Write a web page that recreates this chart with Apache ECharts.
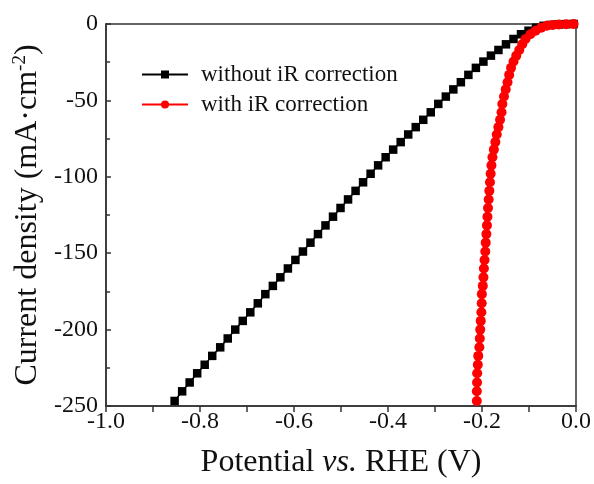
<!DOCTYPE html>
<html>
<head>
<meta charset="utf-8">
<script src="https://cdn.jsdelivr.net/npm/echarts@6/dist/echarts.min.js"></script>
<style>html,body{margin:0;padding:0;background:#fff}#c{width:594px;height:484px}</style>
</head>
<body>
<div id="c"></div>
<script>
// Potential (V vs RHE) without iR correction
var potentialRaw = [-0.854,-0.838,-0.822,-0.806,-0.790,-0.774,-0.757,-0.741,-0.725,-0.709,
  -0.693,-0.677,-0.661,-0.645,-0.629,-0.613,-0.597,-0.581,-0.565,-0.549,
  -0.533,-0.517,-0.501,-0.485,-0.469,-0.453,-0.437,-0.421,-0.405,-0.389,
  -0.373,-0.357,-0.341,-0.325,-0.309,-0.293,-0.277,-0.261,-0.245,-0.229,
  -0.213,-0.197,-0.181,-0.165,-0.149,-0.133,-0.117,-0.101,-0.085,-0.069,
  -0.053,-0.037,-0.021,-0.005];
// Potential (V vs RHE) with iR correction
var potentialCorr = [-0.211,-0.211,-0.2106,-0.2103,-0.2089,-0.208,-0.2056,-0.2047,-0.2038,-0.2027,
  -0.2013,-0.2006,-0.2003,-0.1983,-0.1969,-0.196,-0.1946,-0.193,-0.1921,-0.1907,
  -0.1895,-0.1884,-0.1872,-0.1858,-0.1844,-0.183,-0.1816,-0.1799,-0.1778,-0.1748,
  -0.1716,-0.1686,-0.1651,-0.1616,-0.1584,-0.1567,-0.1532,-0.1495,-0.1457,-0.1422,
  -0.1382,-0.1329,-0.1271,-0.1207,-0.1143,-0.1075,-0.097,-0.086,-0.074,-0.062,
  -0.050,-0.0362,-0.0207,-0.005];
// Current density (mA cm^-2)
var currentDensity = [-246.7,-240.4,-234.6,-228.6,-223.0,-217.2,-211.6,-205.8,-200.0,-194.3,
  -188.7,-182.8,-176.8,-171.4,-165.8,-160.0,-154.4,-148.9,-143.1,-137.5,
  -131.8,-126.1,-120.4,-114.8,-109.2,-103.6,-98.0,-92.5,-87.2,-82.2,
  -77.3,-72.3,-67.5,-62.7,-57.8,-52.3,-47.5,-42.8,-38.1,-33.3,
  -28.7,-24.6,-20.7,-17.0,-13.3,-9.8,-6.7,-4.4,-2.4,-1.2,
  -0.6,-0.3,-0.1,0];
var seriesNames = ['without iR correction', 'with iR correction'];

function pairs(xs, ys){ return xs.map(function(x,i){ return [x, ys[i]]; }); }

var FONT = '"Liberation Serif","Times New Roman",serif';
var chart = echarts.init(document.getElementById('c'), null, {renderer:'canvas'});
chart.setOption({
  animation: false,
  backgroundColor: '#fff',
  grid: {left:106, right:16, top:24, bottom:77, show:true, borderColor:'#333', borderWidth:1.5, backgroundColor:'transparent'},
  legend: {
    left: 136, top: 58, orient: 'vertical',
    itemWidth: 46, itemHeight: 10, itemGap: 7,
    textStyle: {fontFamily: FONT, fontSize: 23, color: '#111', padding:[0,0,0,8]},
    data: seriesNames
  },
  xAxis: {
    type: 'value', min: -1.0, max: 0.0, interval: 0.2,
    axisLine: {show:true, onZero:false, lineStyle:{color:'#333', width:1.5}},
    axisTick: {show:true, inside:false, length:6, lineStyle:{color:'#333', width:1.5}},
    minorTick: {show:true, splitNumber:2, length:6, lineStyle:{color:'#333', width:1.5}},
    splitLine: {show:false},
    axisLabel: {fontFamily: FONT, fontSize: 24, color:'#111', margin: 4,
      formatter: function(v){ return v.toFixed(1); }},
    name: 'Potential {i|vs.} RHE (V)', nameLocation: 'middle', nameGap: 41,
    nameTextStyle: {fontFamily: FONT, fontSize: 32, color:'#111',
      rich: {i: {fontFamily: FONT, fontSize: 32, fontStyle:'italic', color:'#111'}}}
  },
  yAxis: {
    type: 'value', min: -250, max: 0, interval: 50,
    axisLine: {show:true, onZero:false, lineStyle:{color:'#333', width:1.5}},
    axisTick: {show:true, inside:true, length:5, lineStyle:{color:'#333', width:1.5}},
    minorTick: {show:true, splitNumber:2, length:4, lineStyle:{color:'#333', width:1.5}},
    splitLine: {show:false},
    axisLabel: {fontFamily: FONT, fontSize: 24, color:'#111', margin: 8},
    name: 'Current density (mA·cm{s|-2})', nameLocation: 'middle', nameGap: 58, nameRotate: 90,
    nameTextStyle: {fontFamily: FONT, fontSize: 32, color:'#111',
      rich: {s: {fontFamily: FONT, fontSize: 19, color:'#111', verticalAlign:'top', padding:[0,0,14,0]}}}
  },
  series: [
    {
      name: seriesNames[0], type: 'line', data: pairs(potentialRaw, currentDensity),
      symbol: 'rect', symbolSize: 8.5, showAllSymbol: true,
      itemStyle: {color:'#000'}, lineStyle: {color:'#000', width:1.5}, z: 2
    },
    {
      name: seriesNames[1], type: 'line', data: pairs(potentialCorr, currentDensity),
      symbol: 'circle', symbolSize: 10, showAllSymbol: true,
      itemStyle: {color:'#ff0000'}, lineStyle: {color:'#ff0000', width:1.5}, z: 3
    }
  ]
});
</script>
</body>
</html>
